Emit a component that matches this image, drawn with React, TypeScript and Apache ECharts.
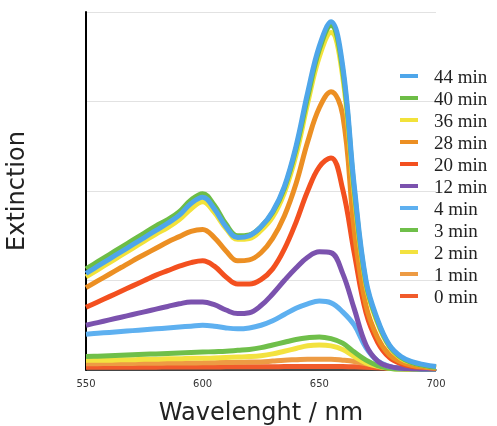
import React, { useEffect, useRef } from 'react';
import * as echarts from 'echarts';

const wavelengths = [550, 555, 560, 565, 570, 575, 580, 585, 590, 595, 600, 605, 610, 615, 620, 625, 630, 635, 640, 645, 650, 655, 660, 665, 670, 675, 680, 685, 690, 695, 700];

const min44 = [1.08, 1.16, 1.24, 1.32, 1.40, 1.48, 1.56, 1.64, 1.73, 1.86, 1.93, 1.80, 1.60, 1.48, 1.50, 1.60, 1.77, 2.05, 2.5, 3.1, 3.62, 3.89, 3.4, 2.05, 1.0, 0.56, 0.28, 0.15, 0.09, 0.06, 0.04];
const min40 = [1.13, 1.21, 1.29, 1.37, 1.45, 1.53, 1.61, 1.68, 1.77, 1.90, 1.97, 1.84, 1.63, 1.50, 1.51, 1.60, 1.76, 2.03, 2.47, 3.05, 3.58, 3.85, 3.35, 2.0, 0.97, 0.54, 0.27, 0.14, 0.08, 0.05, 0.03];
const min36 = [1.04, 1.12, 1.20, 1.28, 1.36, 1.44, 1.52, 1.59, 1.68, 1.80, 1.88, 1.76, 1.58, 1.46, 1.47, 1.56, 1.71, 1.98, 2.4, 2.98, 3.5, 3.77, 3.28, 1.95, 0.95, 0.52, 0.26, 0.13, 0.08, 0.05, 0.03];
const min28 = [0.92, 0.995, 1.07, 1.145, 1.22, 1.29, 1.36, 1.43, 1.49, 1.55, 1.57, 1.48, 1.33, 1.22, 1.23, 1.31, 1.47, 1.72, 2.08, 2.55, 2.93, 3.11, 2.85, 1.55, 0.72, 0.36, 0.17, 0.09, 0.05, 0.03, 0.02];
const min20 = [0.70, 0.76, 0.82, 0.88, 0.94, 1.0, 1.06, 1.11, 1.16, 1.20, 1.22, 1.16, 1.04, 0.96, 0.96, 1.01, 1.13, 1.35, 1.65, 2.0, 2.27, 2.37, 2.02, 1.3, 0.64, 0.31, 0.14, 0.07, 0.04, 0.03, 0.02];
const min12 = [0.50, 0.53, 0.56, 0.59, 0.62, 0.65, 0.68, 0.71, 0.74, 0.76, 0.76, 0.73, 0.67, 0.63, 0.64, 0.72, 0.85, 1.0, 1.14, 1.26, 1.32, 1.31, 1.08, 0.68, 0.28, 0.1, 0.04, 0.02, 0.015, 0.01, 0.01];
const min4 = [0.40, 0.41, 0.42, 0.43, 0.44, 0.45, 0.46, 0.47, 0.48, 0.49, 0.50, 0.49, 0.47, 0.46, 0.47, 0.50, 0.55, 0.62, 0.69, 0.74, 0.77, 0.75, 0.65, 0.5, 0.25, 0.1, 0.04, 0.02, 0.015, 0.01, 0.01];
const min3 = [0.15, 0.155, 0.16, 0.165, 0.17, 0.175, 0.18, 0.185, 0.19, 0.195, 0.20, 0.205, 0.21, 0.22, 0.23, 0.25, 0.28, 0.31, 0.34, 0.36, 0.37, 0.35, 0.3, 0.2, 0.11, 0.05, 0.02, 0.01, 0.01, 0.005, 0.005];
const min2 = [0.11, 0.11, 0.11, 0.115, 0.115, 0.12, 0.12, 0.125, 0.125, 0.13, 0.13, 0.135, 0.14, 0.145, 0.15, 0.16, 0.18, 0.21, 0.24, 0.27, 0.28, 0.27, 0.23, 0.15, 0.08, 0.04, 0.02, 0.01, 0.01, 0.005, 0.005];
const min1 = [0.07, 0.071, 0.072, 0.073, 0.074, 0.075, 0.076, 0.077, 0.078, 0.079, 0.08, 0.082, 0.084, 0.086, 0.088, 0.09, 0.10, 0.11, 0.115, 0.12, 0.12, 0.12, 0.11, 0.095, 0.07, 0.05, 0.03, 0.02, 0.01, 0.005, 0.005];
const min0 = [0.03, 0.03, 0.03, 0.031, 0.031, 0.032, 0.032, 0.033, 0.033, 0.034, 0.034, 0.034, 0.035, 0.035, 0.035, 0.036, 0.037, 0.038, 0.039, 0.04, 0.04, 0.04, 0.038, 0.035, 0.03, 0.025, 0.02, 0.015, 0.01, 0.007, 0.005];

const legendOrder = ['44 min', '40 min', '36 min', '28 min', '20 min', '12 min', '4 min', '3 min', '2 min', '1 min', '0 min'];

const seriesDefs = [
  { name: '0 min', data: min0, color: '#f15b2b' },
  { name: '1 min', data: min1, color: '#ed9b44' },
  { name: '2 min', data: min2, color: '#f3e23f' },
  { name: '3 min', data: min3, color: '#6fbf4a' },
  { name: '4 min', data: min4, color: '#5eb0f0' },
  { name: '12 min', data: min12, color: '#7b52ae' },
  { name: '20 min', data: min20, color: '#f3501f' },
  { name: '28 min', data: min28, color: '#ec8f23' },
  { name: '36 min', data: min36, color: '#f2e23a' },
  { name: '40 min', data: min40, color: '#6dbd46' },
  { name: '44 min', data: min44, color: '#4ea6ea' },
];

export default function App() {
  const ref = useRef<HTMLDivElement>(null);
  useEffect(() => {
    const chart = echarts.init(ref.current!, null, { renderer: 'svg' });
    chart.setOption({
      animation: false,
      grid: { left: 86, right: 61, top: 12, bottom: 56, outerBoundsMode: 'none', containLabel: false },
      xAxis: {
        type: 'value', min: 550, max: 700, interval: 50,
        name: 'Wavelenght / nm', nameLocation: 'middle', nameGap: 30,
        nameTextStyle: { fontFamily: 'DejaVu Sans', fontSize: 24, color: '#222' },
        axisLine: { show: true, lineStyle: { color: '#111', width: 1.5 } },
        axisTick: { show: false },
        axisLabel: { fontFamily: 'DejaVu Sans', fontSize: 10, color: '#333', margin: 8 },
        splitLine: { show: false },
      },
      yAxis: {
        type: 'value', min: 0, max: 4, interval: 1,
        name: 'Extinction', nameLocation: 'middle', nameGap: 58, nameRotate: 90,
        nameTextStyle: { fontFamily: 'DejaVu Sans', fontSize: 24, color: '#222' },
        axisLine: { show: true, lineStyle: { color: '#000', width: 2 } },
        axisTick: { show: false },
        axisLabel: { show: false },
        splitLine: { lineStyle: { color: '#e2e2e2', width: 1 } },
      },
      legend: {
        orient: 'vertical', left: 400, top: 65, padding: 0,
        itemWidth: 18, itemHeight: 4, itemGap: 0, icon: 'rect',
        textStyle: { fontFamily: 'Liberation Serif', fontSize: 19, color: '#222', lineHeight: 22, padding: [0, 0, 0, 11] },
        data: legendOrder,
      },
      series: seriesDefs.map((s) => ({
        name: s.name,
        type: 'line',
        smooth: 0.4,
        showSymbol: false,
        color: s.color,
        lineStyle: { width: 5, color: s.color },
        data: wavelengths.map((w, i) => [w, s.data[i]]),
      })),
    });
    return () => chart.dispose();
  }, []);
  return <div ref={ref} style={{ position: 'fixed', left: 0, top: 0, width: 497, height: 426 }} />;
}
